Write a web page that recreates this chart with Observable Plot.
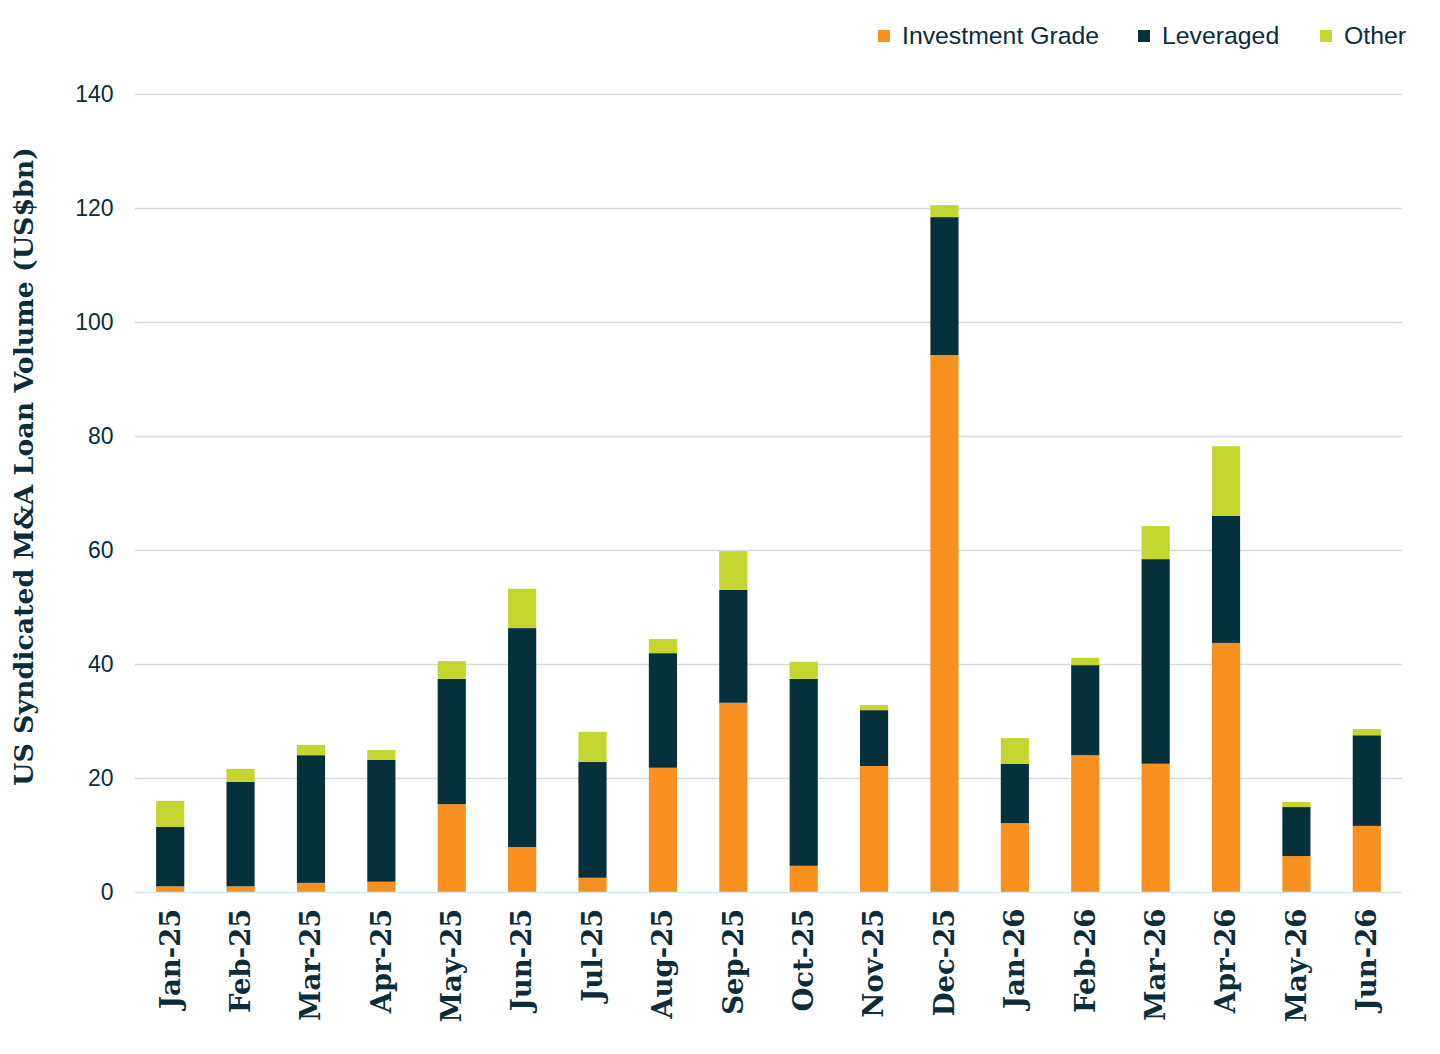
<!DOCTYPE html>
<html>
<head>
<meta charset="utf-8">
<script src="https://cdn.jsdelivr.net/npm/d3@7"></script>
<script src="https://cdn.jsdelivr.net/npm/@observablehq/plot@0.6"></script>
<style>
  body { margin: 0; background: #fff; }
  #legend { height: 60px; position: relative; font-family: "Liberation Sans", Arial, sans-serif; font-size: 24.8px; color: #0b2d39; }
  .item { position: absolute; top: 22px; display: flex; align-items: center; }
  .sw { width: 12px; height: 12px; margin-right: 12px; }
</style>
</head>
<body>
<div id="legend"></div>
<div id="chart"></div>
<script>
const months = ["Jan-25","Feb-25","Mar-25","Apr-25","May-25","Jun-25","Jul-25","Aug-25","Sep-25","Oct-25","Nov-25","Dec-25","Jan-26","Feb-26","Mar-26","Apr-26","May-26","Jun-26"];
const series = ["Investment Grade","Leveraged","Other"];
const colors = ["#F7901E","#04313C","#C4D52F"];
const investmentGrade = [1.0, 1.0, 1.6, 1.8, 15.4, 7.9, 2.5, 21.8, 33.2, 4.6, 22.1, 94.2, 12.1, 24.0, 22.5, 43.7, 6.3, 11.6];
const leveraged       = [10.4, 18.3, 22.4, 21.4, 22.0, 38.4, 20.3, 20.1, 19.8, 32.8, 9.8, 24.2, 10.4, 15.8, 35.9, 22.3, 8.6, 15.9];
const other           = [4.6, 2.3, 1.8, 1.7, 3.1, 6.9, 5.3, 2.5, 6.8, 3.0, 0.9, 2.1, 4.5, 1.3, 5.8, 12.2, 0.9, 1.1];
const yTicks = [0, 20, 40, 60, 80, 100, 120, 140];
const yLabel = "US Syndicated M&A Loan Volume (US$bn)";

const valuesBySeries = [investmentGrade, leveraged, other];
const data = [];
months.forEach((m, i) => series.forEach((s, j) => data.push({month: m, series: s, value: valuesBySeries[j][i]})));

// legend
const legend = document.getElementById("legend");
const lefts = [878, 1138, 1320];
series.forEach((s, j) => {
  const d = document.createElement("div");
  d.className = "item";
  d.style.left = lefts[j] + "px";
  d.innerHTML = `<span class="sw" style="background:${colors[j]}"></span><span>${s}</span>`;
  legend.appendChild(d);
});

const chart = Plot.plot({
  width: 1440,
  height: 994,
  marginTop: 34,
  marginBottom: 162,
  marginLeft: 135,
  marginRight: 38,
  style: {background: "#fff"},
  x: {domain: months, paddingInner: 0.6, paddingOuter: 0.3, round: false, label: null},
  y: {domain: [0, 140], label: null},
  color: {domain: series, range: colors},
  marks: [
    Plot.ruleY(yTicks.filter(d => d > 0), {stroke: "#d5dadd", strokeWidth: 1.3}),
    Plot.barY(data, {x: "month", y: "value", fill: "series", order: series}),
    Plot.ruleY([0], {stroke: "#cfe7f1", strokeWidth: 1.5}),
    Plot.axisY({ticks: yTicks, tickSize: 0, tickPadding: 22, label: null,
      fontSize: 23, fontFamily: "Liberation Sans, Arial, sans-serif", fill: "#0b2d39"}),
    Plot.axisX({tickSize: 0, tickPadding: 16, tickRotate: -90, label: null,
      fontSize: 27.5, fontWeight: "bold", fontFamily: "DejaVu Serif, serif", fill: "#0b2d39"}),
    Plot.text([yLabel], {frameAnchor: "left", textAnchor: "middle", dx: -111, dy: -27, rotate: -90, text: d => d,
      fontSize: 26.8, fontWeight: "bold", fontFamily: "DejaVu Serif, serif", fill: "#0b2d39"})
  ]
});
document.getElementById("chart").appendChild(chart);
</script>
</body>
</html>
